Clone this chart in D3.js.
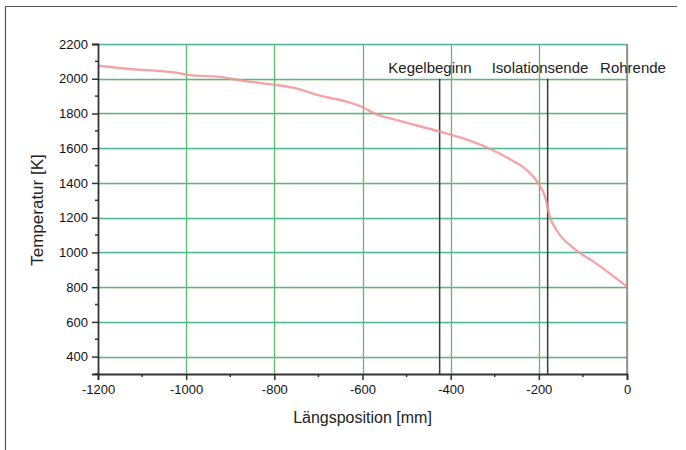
<!DOCTYPE html>
<html>
<head>
<meta charset="utf-8">
<script src="https://cdn.jsdelivr.net/npm/d3@7"></script>
<style>
  body { margin: 0; background: #fff; }
  text { font-family: "Liberation Sans", Arial, sans-serif; }
</style>
</head>
<body>
<div id="chart"></div>
<script>
// Längsposition [mm] and Temperatur [K]
const positions = [-1200, -1127, -1067, -1022, -995, -915, -893, -840, -795, -757, -696, -636, -606, -568, -522, -424, -379, -318, -265, -228, -201, -186, -175, -160, -121, -76, 0];
const temps = [2075, 2056, 2046, 2035, 2022, 2008, 1997, 1978, 1964, 1949, 1903, 1868, 1843, 1795, 1762, 1695, 1662, 1604, 1536, 1475, 1398, 1321, 1206, 1129, 1024, 947, 803];

// marker lines with their labels
const markerNames = ["Kegelbeginn", "Isolationsende", "Rohrende"];
const markerPos = [-425, -180, 0];
const markerTop = 2000;

const xTicks = [-1200, -1000, -800, -600, -400, -200, 0];
const yTicks = [400, 600, 800, 1000, 1200, 1400, 1600, 1800, 2000, 2200];

const width = 686;
const height = 450;
const margin = { left: 98, right: 59, top: 44, bottom: 76 };

const svg = d3.select("#chart")
  .append("svg")
  .attr("width", width)
  .attr("height", height);

//Frame
svg.append("path")
  .attr("d", `M5.5,${height} L5.5,6.5 L677,6.5`)
  .attr("fill", "none")
  .attr("stroke", "#555")
  .attr("stroke-width", 1.2);

const x = d3.scaleLinear().domain([-1200, 0]).range([margin.left, width - margin.right]);
const y = d3.scaleLinear().domain([300, 2200]).range([height - margin.bottom, margin.top]);

//Grid horizontal (teal green with a faint yellow shadow)
svg.selectAll(".hgridY")
  .data(yTicks)
  .enter()
  .append("line")
  .attr("x1", x(-1200))
  .attr("x2", x(0))
  .attr("y1", (d) => Math.round(y(d)) + 1.5)
  .attr("y2", (d) => Math.round(y(d)) + 1.5)
  .attr("stroke", "#faf6de")
  .attr("stroke-width", 1);

svg.selectAll(".hgrid")
  .data(yTicks)
  .enter()
  .append("line")
  .attr("x1", x(-1200))
  .attr("x2", x(0))
  .attr("y1", (d) => Math.round(y(d)) + 0.5)
  .attr("y2", (d) => Math.round(y(d)) + 0.5)
  .attr("stroke", "#4fb993")
  .attr("stroke-width", 1.3);

//Grid vertical
svg.selectAll(".vgrid")
  .data(xTicks.slice(1))
  .enter()
  .append("line")
  .attr("x1", (d) => Math.round(x(d)) + 0.5)
  .attr("x2", (d) => Math.round(x(d)) + 0.5)
  .attr("y1", y(2200))
  .attr("y2", y(300))
  .attr("stroke", "#5cbb6c")
  .attr("stroke-width", 1.3);

//Marker lines
svg.selectAll(".marker")
  .data(markerPos)
  .enter()
  .append("line")
  .attr("x1", (d) => x(d))
  .attr("x2", (d) => x(d))
  .attr("y1", (d) => (d === 0 ? y(2200) : y(markerTop)))
  .attr("y2", y(300))
  .attr("stroke", (d, i) => (i === 2 ? "#8a8a8a" : "#3a3a3a"))
  .attr("stroke-width", 1.5);

svg.selectAll(".markerLabel")
  .data(markerNames)
  .enter()
  .append("text")
  .attr("x", (d, i) => [430, 540, 633][i])
  .attr("y", 73)
  .attr("text-anchor", "middle")
  .attr("font-size", 15)
  .attr("fill", "#222")
  .text((d) => d);

//Curve
const line = d3.line()
  .x((d, i) => x(positions[i]))
  .y((d) => y(d))
  .curve(d3.curveMonotoneX);

svg.append("path")
  .datum(temps)
  .attr("d", line)
  .attr("fill", "none")
  .attr("stroke", "#f29494")
  .attr("stroke-opacity", 0.85)
  .attr("stroke-width", 2.4);

//Axes
const yAxis = d3.axisLeft(y).tickValues(yTicks).tickSize(6).tickPadding(4).tickFormat((d) => String(d));
const xAxis = d3.axisBottom(x).tickValues(xTicks).tickSize(6).tickPadding(5).tickFormat((d) => String(d));

const yG = svg.append("g")
  .attr("transform", `translate(${margin.left},0)`)
  .call(yAxis);

const xG = svg.append("g")
  .attr("transform", `translate(0,${height - margin.bottom})`)
  .call(xAxis);

[yG, xG].forEach((g) => {
  g.select(".domain").attr("stroke", "#333").attr("stroke-width", 1.8);
  g.selectAll(".tick line").attr("stroke", "#333").attr("stroke-width", 1.5);
  g.selectAll(".tick text").attr("font-size", 13).attr("fill", "#111")
    .style("font-family", "'Liberation Sans', Arial, sans-serif");
});

//Minor ticks
svg.selectAll(".yminor")
  .data(d3.range(300, 2200, 200))
  .enter()
  .append("line")
  .attr("x1", margin.left - 3)
  .attr("x2", margin.left)
  .attr("y1", (d) => y(d))
  .attr("y2", (d) => y(d))
  .attr("stroke", "#333")
  .attr("stroke-width", 1.5);

svg.selectAll(".xminor")
  .data(d3.range(-1100, 0, 200))
  .enter()
  .append("line")
  .attr("x1", (d) => x(d))
  .attr("x2", (d) => x(d))
  .attr("y1", height - margin.bottom)
  .attr("y2", height - margin.bottom + 3)
  .attr("stroke", "#333")
  .attr("stroke-width", 1.5);

//Axis titles
svg.append("text")
  .attr("x", (margin.left + width - margin.right) / 2)
  .attr("y", 423)
  .attr("text-anchor", "middle")
  .attr("font-size", 16)
  .attr("fill", "#222")
  .text("Längsposition [mm]");

svg.append("text")
  .attr("transform", `translate(43,210) rotate(-90)`)
  .attr("text-anchor", "middle")
  .attr("font-size", 17)
  .attr("fill", "#222")
  .text("Temperatur [K]");
</script>
</body>
</html>
